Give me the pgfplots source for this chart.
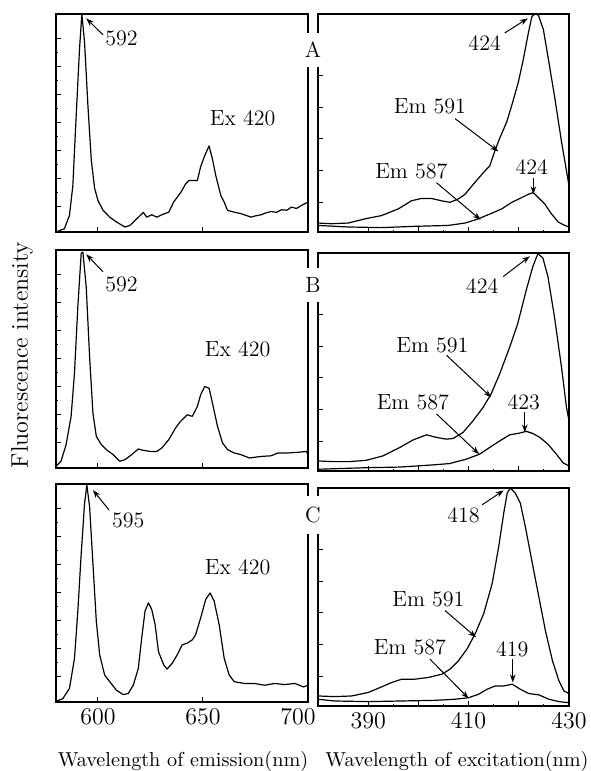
\documentclass[border=0pt]{standalone}
\usepackage{pgfplots}
\pgfplotsset{compat=1.18}
\usetikzlibrary{arrows.meta}

\tikzset{
  arr/.style={-{Stealth[length=4pt,width=2.8pt]}, line width=0.5pt},
  lbl/.style={font=\fontsize{11}{13}\selectfont, inner sep=0pt},
}
\pgfplotsset{
  panel/.style={scale only axis, height=109pt, anchor=north west,
    ymin=0, ymax=1, axis line style={line width=0.6pt},
    tick align=inside, xtick pos=bottom, ytick pos=left,
    yticklabels={}, major tick length=2.5pt, minor tick length=1.2pt,
    tick style={black, line width=0.5pt},
    ticklabel style={font=\fontsize{12}{14}\selectfont},
    xticklabel style={inner sep=0pt, yshift=-3pt},
    xticklabels={},
  },
  emis/.style={panel, width=126pt, xmin=580, xmax=700, xtick={600,650,700},
    ytick={0.115,0.244,0.373,0.502,0.631,0.76,0.889}, minor y tick num=1},
  exci/.style={panel, width=125.5pt, xmin=380, xmax=430, xtick={390,400,410,420,430},
    ytick={0.136,0.282,0.427,0.572,0.718,0.864}, minor x tick num=1, minor y tick num=1},
  crv/.style={black, line width=0.6pt, no markers, line join=round},
}

\begin{document}
\begin{tikzpicture}
\useasboundingbox (0,0) rectangle (295pt,385.5pt);

% ---- row A ----
\begin{axis}[emis, at={(28pt,378.5pt)}]
\addplot[crv] coordinates {(580.8,0.003)(584,0.015)(586.4,0.076)(588,0.21)(589.6,0.53)(591.2,0.84)(592.3,1.0)(593.6,0.87)(595.2,0.58)(596.8,0.33)(598.4,0.2)(600,0.144)(602.4,0.1)(605.6,0.068)(608.8,0.046)(612.8,0.023)(615.2,0.03)(618.4,0.06)(621.6,0.09)(623.2,0.068)(625.6,0.079)(628,0.068)(630.4,0.079)(633.7,0.091)(636,0.137)(639.3,0.18)(641.7,0.22)(643.3,0.236)(645.7,0.236)(647.3,0.236)(648.9,0.30)(650.8,0.35)(652.9,0.395)(654.5,0.334)(656.1,0.258)(658.5,0.167)(660.1,0.137)(661.7,0.099)(664.9,0.091)(668.1,0.084)(672.9,0.068)(675,0.074)(677.7,0.079)(680,0.088)(682.5,0.094)(685,0.09)(687.3,0.102)(690,0.1)(692.1,0.114)(694.5,0.108)(696.9,0.122)(700,0.137)};
\draw[arr] (602.4,0.904) -- (594.4,0.98);
\node[lbl] at (611.2,0.889) {592};
\node[lbl] at (668.9,0.524) {Ex 420};
\end{axis}

\begin{axis}[exci, at={(159pt,378.5pt)}]
\addplot[crv] coordinates {(380,0.041)(382.7,0.038)(386,0.041)(389.3,0.06)(392.6,0.075)(396,0.106)(398.6,0.143)(400.6,0.154)(402.6,0.154)(404.6,0.143)(406.3,0.136)(407.9,0.151)(409.3,0.173)(411.2,0.226)(413.2,0.279)(414.2,0.302)(415.2,0.37)(416.2,0.43)(417.6,0.505)(418.6,0.581)(419.9,0.686)(420.9,0.792)(421.9,0.912)(422.6,0.988)(423.2,1.0)(423.9,0.995)(424.9,0.928)(425.9,0.792)(427.2,0.611)(428.5,0.415)(429.9,0.226)(430,0.211)};
\addplot[crv] coordinates {(380,0.03)(386,0.023)(392.6,0.02)(399.3,0.026)(405.9,0.03)(409.3,0.041)(411.9,0.06)(414.6,0.086)(416.6,0.106)(418.6,0.136)(420.6,0.158)(421.9,0.173)(422.9,0.181)(423.9,0.158)(425.2,0.128)(426.5,0.083)(427.9,0.045)(429.2,0.03)(430,0.023)};
\draw[arr] (417.2,0.913) -- (421.8,0.98);
\node[lbl] at (413.2,0.867) {424};
\draw[arr] (407.3,0.52) -- (415.9,0.37);
\node[lbl] at (402.3,0.578) {Em 591};
\draw[arr] (403.6,0.226) -- (412.4,0.056);
\node[lbl] at (398.6,0.279) {Em 587};
\draw[arr] (422.9,0.249) -- (422.9,0.173);
\node[lbl] at (422.6,0.297) {424};
\end{axis}

% ---- row B ----
\begin{axis}[emis, at={(28pt,260.5pt)}]
\addplot[crv] coordinates {(580,0.008)(582.4,0.031)(584.8,0.107)(587.2,0.237)(588.8,0.435)(590.4,0.74)(592,0.985)(592.8,0.99)(594.4,0.83)(596,0.51)(597.6,0.25)(599.2,0.145)(601.6,0.107)(604,0.084)(607.2,0.061)(610.4,0.031)(612.8,0.038)(616,0.061)(619.2,0.087)(621.6,0.081)(624.8,0.076)(628,0.076)(630.4,0.092)(633.7,0.13)(636.9,0.183)(639.3,0.214)(642.5,0.244)(644.9,0.237)(647.3,0.282)(648.9,0.336)(650.8,0.374)(652.9,0.366)(654.5,0.298)(656.9,0.191)(659.3,0.115)(661.7,0.084)(664.9,0.069)(668.1,0.061)(672.1,0.046)(677.7,0.053)(682.5,0.056)(685.7,0.069)(690.5,0.069)(695.3,0.072)(699.3,0.076)(700,0.061)};
\draw[arr] (602.4,0.9) -- (594.4,0.98);
\node[lbl] at (611.2,0.84) {592};
\node[lbl] at (666.5,0.545) {Ex 420};
\end{axis}

\begin{axis}[exci, at={(159pt,259pt)}]
\addplot[crv] coordinates {(380,0.046)(383,0.043)(386.3,0.043)(389.6,0.049)(392.9,0.069)(396.3,0.108)(398.9,0.142)(401.6,0.166)(403.6,0.154)(405.6,0.146)(406.9,0.149)(408.9,0.177)(410.9,0.231)(412.9,0.292)(414.5,0.354)(416.2,0.446)(418.2,0.569)(419.8,0.677)(421.5,0.831)(422.8,0.938)(423.8,0.997)(424.8,0.977)(425.8,0.892)(427.1,0.708)(428.5,0.477)(429.5,0.292)(430,0.231)};
\addplot[crv] coordinates {(380,0.008)(389.6,0.015)(396.3,0.018)(402.9,0.028)(406.2,0.034)(409.5,0.054)(412.2,0.077)(414.2,0.108)(416.2,0.138)(418.2,0.166)(420.2,0.174)(421.5,0.182)(422.8,0.172)(424.2,0.154)(425.8,0.123)(427.5,0.077)(428.8,0.038)(430,0.023)};
\draw[arr] (416.9,0.892) -- (422.2,0.985);
\node[lbl] at (412.7,0.846) {424};
\draw[arr] (405.6,0.531) -- (414.5,0.338);
\node[lbl] at (402.8,0.577) {Em 591};
\draw[arr] (403.6,0.262) -- (412.1,0.077);
\node[lbl] at (398.9,0.315) {Em 587};
\draw[arr] (421.2,0.269) -- (421.2,0.177);
\node[lbl] at (421,0.315) {423};
\end{axis}

% ---- row C ----
\begin{axis}[emis, at={(28pt,143.5pt)}, xticklabels={600,650,{\hspace*{-10pt}700}}]
\addplot[crv] coordinates {(580,0.003)(583.2,0.015)(586.4,0.062)(588.8,0.2)(590.4,0.417)(592,0.68)(593.6,0.91)(594.7,0.995)(596,0.895)(597.6,0.633)(599.2,0.37)(600.8,0.216)(603.2,0.123)(605.6,0.093)(608.8,0.054)(612,0.034)(614.4,0.039)(616.8,0.077)(619.2,0.154)(620.8,0.293)(622.4,0.417)(624,0.455)(625.6,0.424)(627.2,0.355)(628.8,0.231)(631.3,0.17)(632.9,0.151)(635.3,0.177)(637.7,0.216)(640.1,0.262)(642.5,0.27)(644.9,0.285)(646.5,0.309)(648.9,0.386)(651.3,0.471)(653.4,0.5)(655.3,0.463)(657.7,0.355)(660.1,0.2)(662.5,0.123)(664.9,0.093)(669.7,0.085)(674.5,0.085)(679.3,0.077)(684.1,0.085)(688.9,0.08)(693.8,0.085)(697.8,0.069)(700,0.077)};
\draw[arr] (605.3,0.88) -- (597.6,0.972);
\node[lbl] at (614.4,0.833) {595};
\node[lbl] at (666.5,0.617) {Ex 420};
\end{axis}

\begin{axis}[exci, at={(159pt,141.5pt)}, xticklabels={390,,410,,430}]
\addplot[crv] coordinates {(380,0.046)(383.3,0.043)(386.7,0.046)(390,0.062)(392.7,0.088)(394.7,0.108)(396.7,0.123)(399.3,0.123)(402,0.131)(404.7,0.146)(406.3,0.169)(408,0.208)(409.7,0.262)(411.3,0.331)(413,0.423)(414.7,0.562)(416,0.731)(417,0.885)(417.7,0.977)(418.3,1.0)(419.3,0.977)(420.3,0.931)(421.3,0.823)(422.7,0.654)(424,0.5)(425.3,0.346)(426.7,0.208)(428,0.115)(429,0.069)(430,0.057)};
\addplot[crv] coordinates {(380,0.031)(383.3,0.023)(390,0.02)(396.7,0.023)(403.3,0.026)(407.3,0.031)(410,0.038)(412,0.054)(413.7,0.077)(415.3,0.092)(417,0.092)(418.7,0.1)(420.3,0.077)(422,0.057)(424,0.051)(426,0.031)(428,0.02)(430,0.015)};
\draw[arr] (412.7,0.923) -- (417,0.989);
\node[lbl] at (409,0.877) {418};
\draw[arr] (405.3,0.438) -- (411.5,0.315);
\node[lbl] at (402,0.492) {Em 591};
\draw[arr] (402.3,0.215) -- (410,0.035);
\node[lbl] at (398.3,0.269) {Em 587};
\draw[arr] (418.8,0.215) -- (418.8,0.108);
\node[lbl] at (418.7,0.262) {419};
\end{axis}

% panel letters, breaking the frames between the columns
\node[lbl, fill=white, minimum height=17pt, minimum width=12pt] at (156.5pt,360.5pt) {A};
\node[lbl, fill=white, minimum height=17pt, minimum width=12pt] at (156.5pt,243pt) {B};
\node[lbl, fill=white, minimum height=19pt, minimum width=12pt] at (156.5pt,128pt) {C};

% axis titles
\node[font=\fontsize{12}{14}\selectfont, rotate=90] at (11pt,208pt) {Fluorescence intensity};
\node[anchor=base, font=\fontsize{10.1}{12}\selectfont] at (91.5pt,2pt) {Wavelength of emission(nm)};
\node[anchor=base, font=\fontsize{10.1}{12}\selectfont] at (228.5pt,2pt) {Wavelength of excitation(nm)};
\end{tikzpicture}
\end{document}
